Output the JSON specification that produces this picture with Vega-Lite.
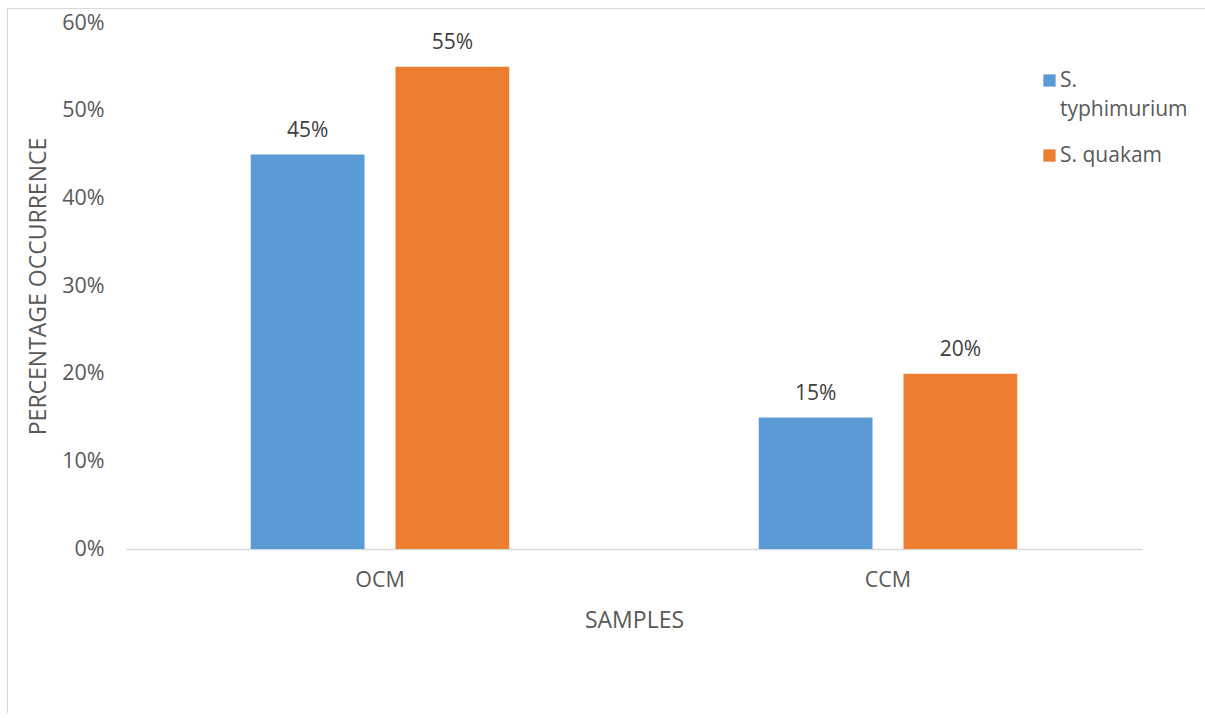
{
  "$schema": "https://vega.github.io/schema/vega-lite/v6.json",
  "width": 1198,
  "height": 705,
  "autosize": {"type": "none"},
  "padding": {"left": 7, "top": 8, "right": 0, "bottom": 0},
  "background": "white",
  "config": {
    "font": "Open Sans",
    "view": {"stroke": "#d9d9d9", "strokeWidth": 1, "strokeDash": [1198, 1903, 705]},
    "axis": {"grid": false, "ticks": false, "labelColor": "#595959", "titleColor": "#595959", "labelFontSize": 21.5, "titleFontSize": 23, "titleFontWeight": "normal"}
  },
  "data": {
    "values": [
      {"sample": "OCM", "organism": "S. typhimurium", "pct": 0.45},
      {"sample": "OCM", "organism": "S. quakam", "pct": 0.55},
      {"sample": "CCM", "organism": "S. typhimurium", "pct": 0.15},
      {"sample": "CCM", "organism": "S. quakam", "pct": 0.20}
    ]
  },
  "encoding": {
    "x": {
      "field": "sample", "type": "nominal", "sort": ["OCM", "CCM"],
      "scale": {"range": [119, 1135], "paddingInner": 0, "paddingOuter": 0},
      "axis": {"title": "SAMPLES", "labelAngle": 0, "offset": -164, "domainColor": "#d9d9d9", "domainWidth": 1.5, "labelPadding": 20, "titlePadding": 19}
    },
    "xOffset": {
      "field": "organism", "type": "nominal", "sort": ["S. typhimurium", "S. quakam"],
      "scale": {"paddingInner": 0.214, "paddingOuter": 0.862}
    },
    "y": {
      "field": "pct", "type": "quantitative",
      "scale": {"domain": [0, 0.6], "range": [541, 15], "nice": false},
      "axis": {"title": "PERCENTAGE OCCURRENCE", "format": ".0%", "values": [0, 0.1, 0.2, 0.3, 0.4, 0.5, 0.6], "domain": false, "offset": -119, "labelPadding": 22, "titlePadding": 11}
    }
  },
  "layer": [
    {
      "mark": {"type": "bar"},
      "encoding": {
        "color": {
          "field": "organism", "type": "nominal", "sort": ["S. typhimurium", "S. quakam"],
          "scale": {"domain": ["S. typhimurium", "S. quakam"], "range": ["#5b9bd5", "#ed7d31"]},
          "legend": {
            "title": null, "orient": "none", "legendX": 1032, "legendY": 62,
            "symbolType": "square", "symbolSize": 150, "symbolStrokeWidth": 0,
            "labelFontSize": 21, "labelColor": "#595959", "labelLimit": 200,
            "rowPadding": 24, "labelOffset": 0,
            "labelExpr": "datum.label == 'S. typhimurium' ? ['S.', 'typhimurium'] : datum.label",
            "encode": {"labels": {"update": {"lineHeight": {"value": 29}}}}
          }
        }
      }
    },
    {
      "mark": {"type": "text", "dy": -24, "fontSize": 21, "color": "#404040"},
      "encoding": {"text": {"field": "pct", "type": "quantitative", "format": ".0%"}}
    }
  ]
}
